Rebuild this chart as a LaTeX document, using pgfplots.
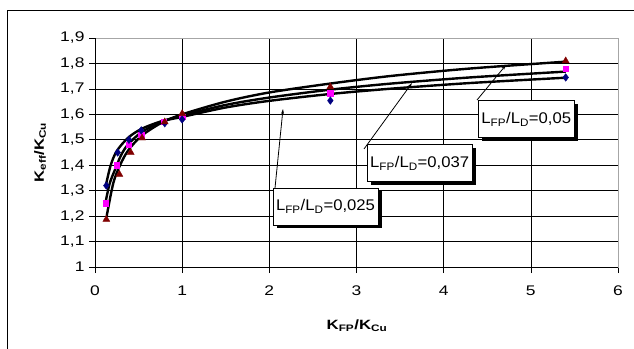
\documentclass[border=0pt]{standalone}
\usepackage{fontspec}
\setmainfont{Liberation Sans}
\newfontfamily\tickfont{Liberation Sans}[FakeStretch=1.25]
\newfontfamily\lblfont{Liberation Sans}[FakeStretch=1.08]
\usepackage{pgfplots}
\pgfplotsset{compat=1.18}
\usetikzlibrary{shadows,arrows.meta}
\definecolor{navyb}{RGB}{0,0,128}
\definecolor{magp}{RGB}{255,0,255}
\definecolor{darkr}{RGB}{128,0,0}
\begin{document}
\begin{tikzpicture}
\useasboundingbox (0,0) rectangle (634bp,349bp);
\draw[black, line width=0.9bp] (7bp,0bp) -- (7bp,339bp) -- (634bp,339bp);
\begin{axis}[
  at={(95bp,82bp)}, anchor=south west,
  scale only axis, width=523bp, height=229bp,
  xmin=0, xmax=6, ymin=1, ymax=1.9,
  xtick={0,1,2,3,4,5,6},
  ytick={1,1.1,1.2,1.3,1.4,1.5,1.6,1.7,1.8,1.9},
  /pgf/number format/assume math mode=true,
  /pgf/number format/use comma,
  /pgf/number format/fixed,
  /pgf/number format/precision=1,
  tick label style={font=\tickfont\fontsize{14}{16}\selectfont},
  xticklabel style={yshift=-9bp},
  yticklabel style={xshift=-1bp},
  tick align=outside,
  major tick length=6bp,
  tick style={black, line width=0.6bp},
  xtick pos=bottom, ytick pos=left,
  grid=major,
  major grid style={black, line width=0.6bp},
  axis line style={gray!70, line width=0.8bp},
  clip=false,
]
\draw[black, line width=0.8bp] (rel axis cs:0,1) -- (rel axis cs:0,0) -- (rel axis cs:1,0);
% data markers
\addplot[only marks, mark=square*, mark size=2.7bp, color=magp] coordinates {
(0.12,1.25) (0.25,1.40) (0.39,1.48) (0.53,1.52) (0.79,1.572) (1.0,1.59) (2.7,1.683) (5.4,1.78)};
\addplot[only marks, mark=diamond*, mark size=3.8bp, color=navyb] coordinates {
(0.13,1.32) (0.26,1.45) (0.39,1.50) (0.53,1.537) (0.8,1.565) (1.0,1.58) (2.7,1.654) (5.4,1.745)};
\addplot[only marks, mark=triangle*, mark size=4bp, color=darkr] coordinates {
(0.13,1.187) (0.28,1.364) (0.41,1.45) (0.54,1.507) (0.8,1.57) (1.0,1.603) (2.7,1.708) (5.4,1.81)};
% trend curves
\addplot[black, line width=2.4bp, smooth, tension=0.5] coordinates {
(0.126,1.323) (0.18,1.40) (0.25,1.456) (0.38,1.508) (0.535,1.543) (0.765,1.573) (1.0,1.59) (1.5,1.627) (2.0,1.653) (2.7,1.680) (3.4,1.701) (4.3,1.723) (5.4,1.744)};
\addplot[black, line width=2.4bp, smooth, tension=0.5] coordinates {
(0.126,1.263) (0.17,1.33) (0.23,1.383) (0.30,1.44) (0.38,1.482) (0.535,1.530) (0.765,1.571) (1.0,1.595) (1.5,1.637) (2.0,1.666) (2.7,1.697) (3.4,1.721) (4.3,1.745) (5.4,1.768)};
\addplot[black, line width=2.4bp, smooth, tension=0.5] coordinates {
(0.134,1.20) (0.21,1.33) (0.287,1.40) (0.38,1.458) (0.535,1.516) (0.765,1.567) (1.0,1.60) (1.5,1.650) (2.0,1.686) (2.7,1.721) (3.4,1.751) (4.3,1.780) (5.4,1.807)};
\end{axis}
\node[rotate=90, font=\tickfont\bfseries\fontsize{13.5}{15}\selectfont] at (40bp,196.5bp) {K\textsubscript{eff}/K\textsubscript{Cu}};
\node[font=\tickfont\bfseries\fontsize{13.5}{15}\selectfont] at (357bp,23bp) {K\textsubscript{FP}/K\textsubscript{Cu}};
\tikzset{lbl/.style={draw=black, line width=0.6bp, fill=white, inner xsep=3bp, minimum height=37bp,
  font=\lblfont\fontsize{15.5}{17}\selectfont,
  drop shadow={shadow xshift=3.5bp, shadow yshift=-3.5bp, opacity=1, fill=black}}}
\draw[line width=0.8bp, -{Stealth[length=5bp,width=3bp]}] (275bp,161bp) -- (283bp,240bp);
\draw[line width=0.8bp, -{Stealth[length=5bp,width=3bp]}] (364bp,200bp) -- (412bp,266bp);
\draw[line width=0.8bp, -{Stealth[length=5bp,width=3bp]}] (477bp,249bp) -- (506bp,284bp);
\node[lbl] at (325.5bp,142.5bp) {L\textsubscript{FP}/L\textsubscript{D}=0,025};
\node[lbl] at (419.7bp,185.8bp) {L\textsubscript{FP}/L\textsubscript{D}=0,037};
\node[lbl] at (526.3bp,229.8bp) {L\textsubscript{FP}/L\textsubscript{D}=0,05};
\end{tikzpicture}
\end{document}
